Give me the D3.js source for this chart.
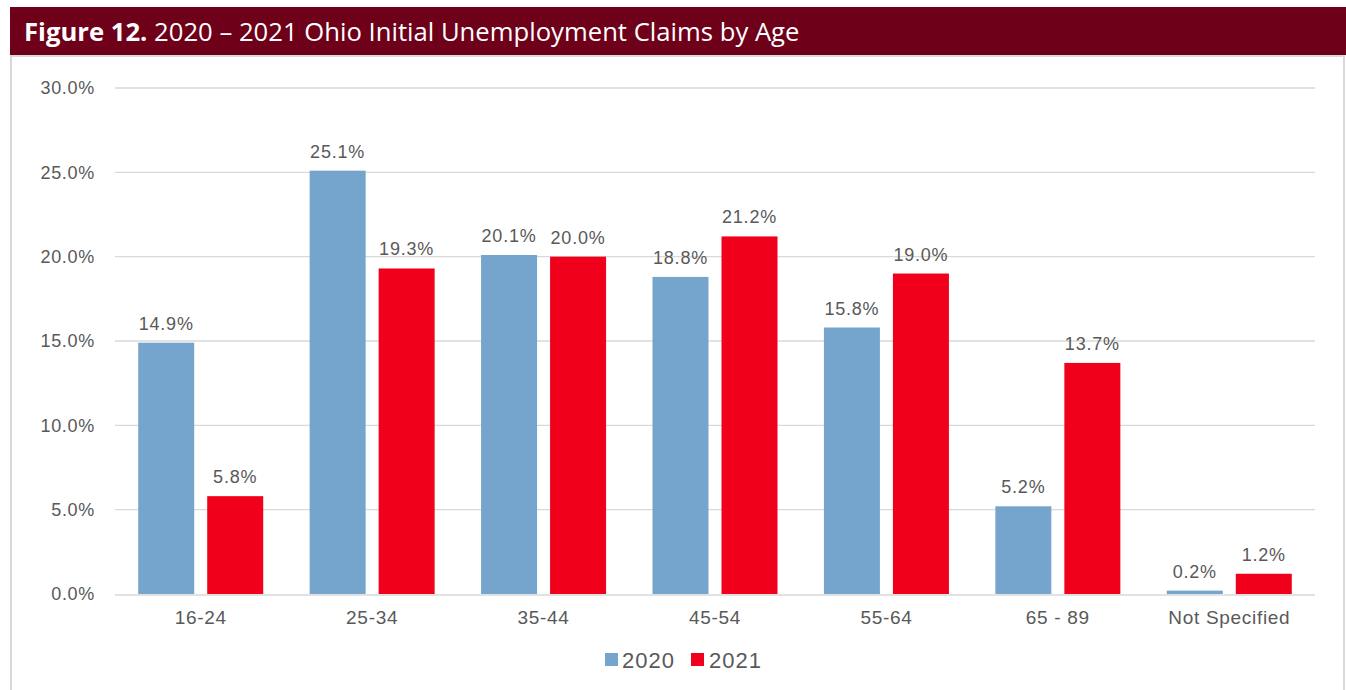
<!DOCTYPE html>
<html>
<head>
<meta charset="utf-8">
<script src="https://cdn.jsdelivr.net/npm/d3@7"></script>
<style>
  html, body { margin: 0; padding: 0; background: #ffffff; }
  svg { display: block; }
</style>
</head>
<body>
<svg id="chart" width="1346" height="690"></svg>
<script>
// Age groups and share of initial claims per year
const categories = ["16-24", "25-34", "35-44", "45-54", "55-64", "65 - 89", "Not Specified"];
const series2020 = [14.9, 25.1, 20.1, 18.8, 15.8, 5.2, 0.2];
const series2021 = [5.8, 19.3, 20.0, 21.2, 19.0, 13.7, 1.2];
const yTicks = [0, 5, 10, 15, 20, 25, 30];
const seriesNames = ["2020", "2021"];
const seriesColors = ["#75a5cd", "#f0001b"];

const svg = d3.select("#chart");
const W = 1346, H = 690;

// Header band
svg.append("rect").attr("x", 10).attr("y", 7).attr("width", W - 10).attr("height", 48)
  .attr("fill", "#6e0019");

// Frame below the header
svg.append("rect").attr("x", 11).attr("y", 56).attr("width", 1333).attr("height", H)
  .attr("fill", "none").attr("stroke", "#d9d9d9").attr("stroke-width", 2);

const title = svg.append("text").attr("x", 24).attr("y", 41)
  .attr("fill", "#ffffff").style("font-family", "'Open Sans', sans-serif").style("font-size", "24px");
title.append("tspan").attr("font-weight", "bold").text("Figure 12.");
title.append("tspan").text(" 2020 \u2013 2021 Ohio Initial Unemployment Claims by Age");
// Fit title to its width
const tw = title.node().getComputedTextLength();
const targetW = 776;
title.style("font-size", (24 * targetW / tw).toFixed(2) + "px");

const margin = { left: 115, right: 1315, top: 88, bottom: 594 };

const x = d3.scaleBand().domain(categories).range([margin.left, margin.right]).paddingInner(0).paddingOuter(0);
const y = d3.scaleLinear().domain([0, 30]).range([margin.bottom, margin.top]);

const barW = 56, gap = 13;

const textColor = "#595959";
const font = "'Liberation Sans', Arial, sans-serif";

// Gridlines
svg.append("g").selectAll("line").data(yTicks.filter(d => d > 0)).join("line")
  .attr("x1", margin.left).attr("x2", margin.right)
  .attr("y1", d => y(d)).attr("y2", d => y(d))
  .attr("stroke", "#d9d9d9").attr("stroke-width", 1.3);

// Y axis labels
const yAxis = d3.axisLeft(y).tickValues(yTicks).tickFormat(d => d3.format(".1f")(d) + "%").tickSize(0).tickPadding(20);
const gy = svg.append("g").attr("transform", `translate(${margin.left},0)`).call(yAxis);
gy.select(".domain").remove();
gy.selectAll("text").attr("fill", textColor).style("font-family", font).style("font-size", "18px")
  .style("letter-spacing", "0.7px");

// Bars and value labels
[series2020, series2021].forEach((vals, si) => {
  const offset = (x.bandwidth() - (2 * barW + gap)) / 2 + si * (barW + gap);
  svg.append("g").selectAll("rect").data(vals).join("rect")
    .attr("x", (d, i) => x(categories[i]) + offset)
    .attr("width", barW)
    .attr("y", d => y(d))
    .attr("height", d => y(0) - y(d))
    .attr("fill", seriesColors[si]);
  svg.append("g").selectAll("text").data(vals).join("text")
    .attr("x", (d, i) => x(categories[i]) + offset + barW / 2)
    .attr("y", d => y(d) - 13)
    .attr("text-anchor", "middle")
    .attr("fill", textColor).style("font-family", font).style("font-size", "18px")
    .style("letter-spacing", "0.8px")
    .text(d => d3.format(".1f")(d) + "%");
});

// Baseline
svg.append("line").attr("x1", margin.left).attr("x2", margin.right)
  .attr("y1", y(0) + 1).attr("y2", y(0) + 1).attr("stroke", "#d9d9d9").attr("stroke-width", 1.5);

// Category axis
const xAxis = d3.axisBottom(x).tickSize(0).tickPadding(17);
const gx = svg.append("g").attr("transform", `translate(0,${margin.bottom})`).call(xAxis);
gx.select(".domain").remove();
gx.selectAll("text").attr("fill", textColor).style("font-family", font).style("font-size", "19px")
  .style("letter-spacing", "0.7px");

// Legend
const legend = svg.append("g");
const legendItems = [{ x: 605, tx: 622 }, { x: 691, tx: 709 }];
seriesNames.forEach((name, i) => {
  legend.append("rect").attr("x", legendItems[i].x).attr("y", 653).attr("width", 13).attr("height", 13)
    .attr("fill", seriesColors[i]);
  legend.append("text").attr("x", legendItems[i].tx).attr("y", 668)
    .attr("fill", textColor).style("font-family", font).style("font-size", "22px")
    .style("letter-spacing", "1px").text(name);
});
</script>
</body>
</html>
